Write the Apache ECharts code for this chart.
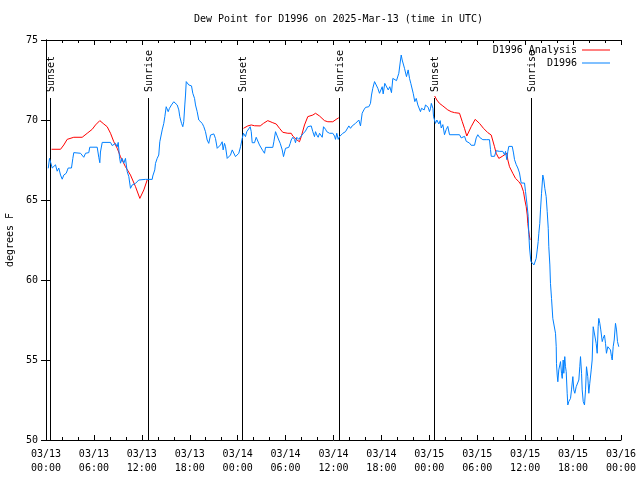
<!DOCTYPE html>
<html>
<head>
<meta charset="utf-8">
<script src="https://cdn.jsdelivr.net/npm/echarts@6/dist/echarts.min.js"></script>
<style>html,body{margin:0;padding:0;background:#fff}#c{width:640px;height:480px}</style>
</head>
<body>
<div id="c"></div>
<script>
// X axis: hours since 2025-03-13 00:00 UTC
const xTickLabels = ['03/13\n00:00','03/13\n06:00','03/13\n12:00','03/13\n18:00','03/14\n00:00','03/14\n06:00','03/14\n12:00','03/14\n18:00','03/15\n00:00','03/15\n06:00','03/15\n12:00','03/15\n18:00','03/16\n00:00'];

const eventHours = [0.56, 12.84, 24.61, 36.75, 48.64, 60.79];
const eventNames = ['Sunset','Sunrise','Sunset','Sunrise','Sunset','Sunrise'];

// D1996 observations
const blueHours = [
0.28,0.44,0.69,0.78,0.98,1.19,1.40,1.60,1.82,2.03,2.23,2.53,2.78,3.19,3.36,3.48,4.32,4.73,4.95,5.36,5.48,6.41,6.61,6.74,6.82,7.04,8.08,8.29,8.70,8.92,9.04,9.20,9.33,9.54,9.74,9.95,10.17,10.37,10.58,10.79,10.99,11.21,11.62,12.46,12.67,
12.80,13.30,13.37,13.62,13.71,13.92,14.12,14.25,14.46,14.55,14.75,14.88,15.05,15.18,15.30,15.46,15.71,16.00,16.22,16.43,16.63,16.75,16.97,17.13,17.25,17.38,17.47,17.56,17.76,17.88,18.09,18.22,18.38,18.60,18.72,18.93,19.13,19.35,19.56,19.76,19.97,20.18,20.38,20.60,21.01,21.22,21.44,21.64,21.85,22.06,22.18,22.35,22.48,22.69,22.89,23.10,23.32,23.52,23.73,23.94,24.14,24.36,24.57,
24.73,24.98,25.14,25.39,25.57,25.70,25.82,26.11,26.32,26.52,26.73,26.95,27.15,27.36,27.49,28.40,28.53,28.74,28.90,29.15,29.33,29.58,29.74,29.86,29.99,30.40,30.58,30.70,30.90,31.12,31.24,31.40,31.66,31.83,32.08,32.24,32.49,32.78,33.21,33.41,33.62,33.75,33.91,34.08,34.25,34.46,34.59,34.75,35.00,35.16,35.50,35.71,35.91,36.13,36.25,36.41,36.59,36.75,36.96,37.17,
37.29,37.50,37.72,37.92,38.13,38.34,38.54,38.76,38.97,39.17,39.38,39.59,39.80,40.01,40.22,40.42,40.63,40.76,40.92,41.14,41.35,41.55,41.76,41.89,42.10,42.22,42.42,42.64,42.85,43.05,43.26,43.43,43.68,43.89,44.10,44.18,44.39,44.48,44.60,44.73,44.89,45.02,45.14,45.35,45.52,45.68,45.86,45.98,46.18,46.36,46.56,46.77,46.89,47.02,47.18,47.36,47.52,47.73,47.86,48.02,48.15,
48.25,48.45,48.53,48.77,48.94,49.19,49.36,49.49,49.69,49.90,50.11,50.31,50.53,50.74,51.78,51.99,52.19,52.41,52.62,52.82,53.03,53.24,53.66,53.87,54.07,54.28,54.49,54.70,54.91,55.12,55.32,55.53,55.66,55.75,56.16,56.37,56.57,56.79,57.20,57.41,57.54,57.70,57.83,57.95,58.38,58.54,58.67,58.88,59.08,59.29,59.50,59.92,60.04,60.21,60.38,60.46,60.55,60.71,60.86,61.10,
61.38,61.51,61.63,61.71,61.83,61.92,62.05,62.21,62.34,62.46,62.63,62.76,62.89,62.96,63.09,63.17,63.30,63.46,63.71,63.80,63.89,63.92,64.01,64.09,64.21,64.34,64.43,64.55,64.64,64.76,64.84,64.96,65.05,65.14,65.26,65.34,65.46,65.68,65.80,65.97,66.09,66.22,66.39,66.59,66.72,66.84,66.93,67.06,67.14,67.27,67.43,67.56,67.68,67.84,67.97,68.09,68.27,68.39,68.52,68.72,68.89,69.02,69.14,69.22,69.35,69.47,69.65,69.77,69.93,70.06,70.18,70.35,70.47,70.68,70.81,70.90,71.02,71.15,71.31,71.44,71.56,71.72
];
const blueValues = [
66.98,67.6,67.5,67.0,66.9,67.2,66.8,67.0,66.56,66.3,66.56,66.67,67.0,67.0,67.6,67.96,67.92,67.67,67.92,67.96,68.3,68.3,67.67,67.33,68.0,68.6,68.6,68.4,68.54,68.33,68.6,67.7,67.3,67.6,67.3,67.6,66.77,66.46,65.73,65.94,65.88,66.04,66.25,66.29,66.25,
66.29,66.29,66.5,66.88,67.29,67.6,67.81,68.64,68.75,69.38,69.79,70.21,70.83,70.94,70.52,70.73,70.94,71.14,71.04,70.94,70.63,70.21,69.79,69.58,69.9,70.94,71.56,72.4,72.45,72.19,72.08,72.13,71.67,71.35,70.94,70.52,70.0,70.1,69.79,69.58,69.27,68.75,68.54,69.06,69.13,68.85,68.23,68.17,68.44,68.64,68.13,68.54,68.33,67.6,67.71,67.81,68.13,68.02,67.71,67.81,67.92,68.33,68.85,
69.17,68.96,69.27,69.17,69.58,69.27,68.58,68.58,68.92,68.92,68.44,68.33,68.08,67.92,68.29,68.29,68.64,69.27,69.06,68.75,68.54,68.13,67.71,67.6,68.23,68.29,68.54,68.75,68.92,68.79,68.58,68.92,68.79,68.92,68.92,69.17,69.31,69.58,69.63,69.27,68.96,69.27,69.06,68.92,69.17,69.27,68.92,69.58,69.42,69.27,69.17,69.27,69.17,69.0,68.79,69.17,68.79,68.96,69.0,69.17,
69.17,69.27,69.38,69.63,69.48,69.63,69.58,69.79,69.9,70.0,69.63,70.42,70.63,70.79,70.67,70.83,71.04,71.56,71.98,72.4,72.4,71.98,71.67,71.77,72.08,71.63,72.29,72.19,71.88,72.08,71.71,72.6,72.5,72.46,72.46,72.92,73.75,74.06,73.75,73.65,73.23,73.33,72.71,73.13,72.6,72.29,72.29,71.67,71.15,71.35,70.94,71.04,70.52,70.73,70.83,70.63,70.94,71.04,70.79,70.52,70.73,
71.04,70.73,70.2,69.79,70.0,69.75,69.96,69.5,69.71,69.08,69.4,69.6,69.08,69.08,69.08,68.88,68.77,68.98,68.67,68.67,68.56,68.42,68.42,68.88,69.08,68.92,68.98,68.77,68.88,68.77,68.88,68.77,68.15,67.73,67.73,68.08,68.08,68.04,68.04,67.83,68.04,67.52,68.04,68.35,68.35,67.94,67.52,67.21,67.0,66.69,66.06,66.06,65.54,64.81,63.98,62.83,62.0,61.17,61.06,60.94,
61.35,61.88,62.4,62.92,63.54,64.38,65.42,66.56,66.25,65.73,65.21,64.27,63.23,62.08,60.94,59.79,58.85,57.6,57.6,56.67,55.83,54.79,54.06,53.64,54.38,54.69,54.9,54.17,53.85,55.0,54.17,55.21,54.58,54.27,52.92,52.19,52.4,52.6,53.13,53.96,53.13,52.92,53.33,53.23,53.75,54.58,55.21,54.17,53.13,52.4,52.19,53.13,54.58,53.96,52.92,53.54,54.38,55.0,57.08,57.08,56.04,55.42,57.08,57.6,57.29,56.88,56.15,56.35,56.56,56.04,55.42,55.83,55.73,55.63,55.21,55.0,55.83,56.25,57.29,56.88,56.15,55.83
];

// D1996 Analysis (null = gap)
const redHours = [
0.69,1.82,2.23,2.65,3.48,4.53,5.16,5.79,6.20,6.74,7.24,7.66,8.08,8.49,8.92,9.33,9.95,10.58,11.21,11.75,12.25,12.67,
18.0,
24.73,24.98,25.27,25.70,26.11,26.82,27.23,27.77,28.40,28.83,29.24,29.65,30.28,30.70,30.90,31.33,31.74,31.96,32.37,32.78,33.41,33.75,34.25,34.87,35.29,35.91,36.34,36.66,
42.0,
48.67,48.94,49.27,49.69,50.31,50.74,51.15,51.78,52.12,52.40,52.69,53.24,53.74,54.28,54.78,55.32,55.75,56.16,56.37,56.70,57.20,57.70,57.83,58.04,58.45,58.79,59.20,59.50,59.79,59.96,60.13,60.26,60.33,60.42,60.61
];
const redValues = [
68.17,68.17,68.44,68.79,68.92,68.92,69.17,69.42,69.69,69.96,69.75,69.58,69.17,68.64,68.23,67.7,67.08,66.56,65.83,65.1,65.63,66.25,
null,
69.48,69.54,69.63,69.69,69.64,69.63,69.79,69.96,69.83,69.75,69.48,69.23,69.17,69.17,69.0,68.79,68.64,68.96,69.69,70.21,70.31,70.42,70.25,69.96,69.89,69.89,70.04,70.14,
null,
71.5,71.25,71.04,70.88,70.63,70.52,70.46,70.42,69.9,69.48,69.0,69.58,70.04,69.79,69.48,69.21,69.06,68.33,67.92,67.6,67.75,67.92,67.5,67.08,66.67,66.35,66.15,65.94,65.52,65.0,64.58,64.06,63.54,63.13,62.5
];

const FONT = '"DejaVu Sans Mono", monospace';
const blueData = blueHours.map((h, i) => [h, blueValues[i]]);
const redData = redHours.map((h, i) => [h, redValues[i] === null ? '-' : redValues[i]]);

const chart = echarts.init(document.getElementById('c'), null, {renderer: 'canvas'});
const xBase = {
  type: 'value', min: 0, max: 72, interval: 6,
  axisLine: {show: true, lineStyle: {color: '#000', width: 1}},
  axisTick: {show: true, inside: true, length: 5, lineStyle: {color: '#000'}},
  minorTick: {show: true, splitNumber: 3, length: 3, lineStyle: {color: '#000'}},
  splitLine: {show: false}
};
const yBase = {
  type: 'value', min: 50, max: 75, interval: 5,
  axisLine: {show: true, lineStyle: {color: '#000', width: 1}},
  axisTick: {show: true, inside: true, length: 5, lineStyle: {color: '#000'}},
  splitLine: {show: false}
};
const legendText = {fontFamily: FONT, fontSize: 10, color: '#000'};
chart.setOption({
  animation: false,
  backgroundColor: '#fff',
  title: {
    text: 'Dew Point for D1996 on 2025-Mar-13 (time in UTC)',
    left: 189, top: 9,
    textStyle: {fontFamily: FONT, fontSize: 10, fontWeight: 'normal', color: '#000'}
  },
  legend: [
    {data: ['D1996 Analysis'], right: 30, top: 45, padding: 0, align: 'right', icon: 'rect',
     itemWidth: 28, itemHeight: 1, textStyle: legendText},
    {data: ['D1996'], right: 30, top: 58, padding: 0, align: 'right', icon: 'rect',
     itemWidth: 28, itemHeight: 1, textStyle: legendText}
  ],
  grid: {left: 46, right: 19, top: 40, bottom: 40, containLabel: false, outerBoundsMode: 'none'},
  xAxis: [
    Object.assign({}, xBase, {position: 'bottom',
      axisLabel: {show: true, margin: 7, fontFamily: FONT, fontSize: 10, color: '#000', lineHeight: 14,
        formatter: v => xTickLabels[Math.round(v / 6)] || ''}}),
    Object.assign({}, xBase, {position: 'top', axisLabel: {show: false}})
  ],
  yAxis: [
    Object.assign({}, yBase, {position: 'left', name: 'degrees F', nameLocation: 'middle', nameGap: 31,
      nameTextStyle: {fontFamily: FONT, fontSize: 10, color: '#000'},
      axisLabel: {show: true, margin: 8, fontFamily: FONT, fontSize: 10, color: '#000'}}),
    Object.assign({}, yBase, {position: 'right', axisLabel: {show: false}})
  ],
  series: [
    {
      type: 'custom', name: 'events', xAxisIndex: 0, yAxisIndex: 0, z: 1,
      data: eventHours.map(h => [h, 50]),
      encode: {x: 0, y: 1},
      silent: true,
      renderItem: function (params, api) {
        const h = api.value(0);
        const p0 = api.coord([h, 50]);
        const p1 = api.coord([h, 71.375]);
        const x = Math.floor(p0[0]) + 0.5;
        return {
          type: 'group',
          children: [
            {type: 'line', shape: {x1: x, y1: p0[1], x2: x, y2: p1[1]}, style: {stroke: '#000', lineWidth: 1}},
            {type: 'text', x: x + 1, y: p1[1] - 6, rotation: Math.PI / 2,
             style: {text: eventNames[params.dataIndex], font: '10px ' + FONT, fill: '#000', align: 'left', verticalAlign: 'middle'}}
          ]
        };
      }
    },
    {
      name: 'D1996 Analysis', type: 'line', data: redData, symbol: 'none', showSymbol: false,
      connectNulls: false, z: 2,
      lineStyle: {color: '#ff0000', width: 1}, itemStyle: {color: '#ff0000'}
    },
    {
      name: 'D1996', type: 'line', data: blueData, symbol: 'none', showSymbol: false, z: 3,
      lineStyle: {color: '#0080ff', width: 1}, itemStyle: {color: '#0080ff'}
    }
  ]
});
</script>
</body>
</html>
